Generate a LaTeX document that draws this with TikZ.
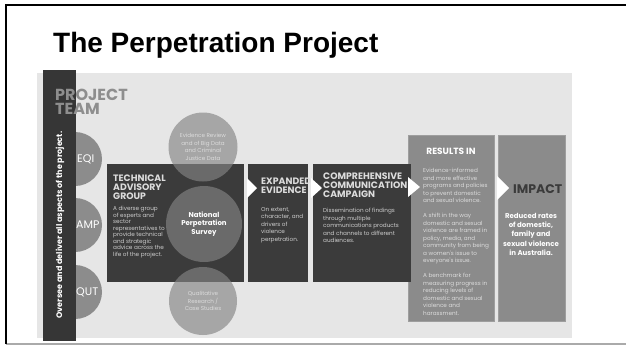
\documentclass[tikz,border=0pt]{standalone}
\usepackage{fontspec}
\usepackage{tikz}
\usetikzlibrary{positioning,calc}
\newfontfamily\poppins{Poppins}
\newfontfamily\headfont{Liberation Sans}
\definecolor{panel}{HTML}{E6E6E6}
\definecolor{bardark}{HTML}{363636}
\definecolor{boxdark}{HTML}{3B3B3B}
\definecolor{teamgrey}{HTML}{8C8C8C}
\definecolor{studygrey}{HTML}{848484}
\definecolor{resultgrey}{HTML}{8B8B8B}
\definecolor{resultedge}{HTML}{9E9E9E}
\definecolor{headlight}{HTML}{DCDCDC}
\definecolor{bodylight}{HTML}{CDCDCD}
\definecolor{teamtext}{HTML}{8E8E8E}
\definecolor{frameline}{HTML}{AAAAAA}
\tikzset{
  stage/.style={inner sep=0pt,anchor=north west,minimum height=118},
  outcome/.style={fill=resultgrey,draw=resultedge,line width=0.8pt,inner sep=0pt,anchor=north west,minimum height=186},
  notch/.style={fill=white},
}

\begin{document}
\begin{tikzpicture}[x=1pt,y=-1pt,
  boxhead/.style={inner sep=0pt,anchor=north west,align=left,text=headlight,font=\poppins\bfseries\fontsize{9.3}{9}\selectfont},
  boxbody/.style={inner sep=0pt,anchor=north west,align=left,text=bodylight,font=\poppins\fontsize{5.7}{#1}\selectfont},
  boxbody/.default=7.5,
  teamdot/.style={circle,fill=teamgrey,minimum size=54,inner sep=0pt},
  teamtag/.style={inner sep=0pt,text=white,font=\poppins\fontsize{11}{11}\selectfont},
  studydot/.style={circle,fill=studygrey,fill opacity=0.65,text opacity=1,inner sep=0pt,minimum size=#1,
    align=center,text=headlight,font=\poppins\fontsize{5.6}{7.7}\selectfont},
]
\useasboundingbox (0,0) rectangle (626,354);
\fill[white] (0,0) rectangle (626,354);
% frame of the slide
\draw[frameline,line width=1.5pt] (6,344) -- (626,344);
\draw[black,line width=2.5pt] (6,344) |- (626,5);

\node[inner sep=0pt,anchor=base west,font=\headfont\bfseries\fontsize{28}{30}\selectfont] (title) at (53,52) {The Perpetration Project};

\fill[panel] (37,73) rectangle (572,338);

% project team
\node[teamdot] (eqi) at (75,159) {};
\node[teamdot] (amp) at (75,225) {};
\node[teamdot] (qut) at (75,292) {};
\node[fill=bardark,inner sep=0pt,anchor=north west,minimum width=33,minimum height=271] (bar) at (43,70) {};
\node[teamtag,right=2pt of eqi.center] {EQI};
\node[teamtag,right=1pt of amp.center] {AMP};
\node[teamtag,right=1pt of qut.center] {QUT};
\node[inner sep=0pt,anchor=north west,align=left,text=teamtext,font=\poppins\bfseries\fontsize{16}{13.5}\selectfont] (team) at (55,89) {PROJECT\\TEAM};
\node[rotate=90,inner sep=0pt,text=white,font=\poppins\bfseries\fontsize{8}{8}\selectfont] (oversee) at (60,225) {Oversee and deliver all aspects of the project.};

% outcomes
\node[outcome,minimum width=86] (results) at (408,135) {};
\node[outcome,minimum width=67] (impact) at (498,135) {};

% stages
\node[stage,fill=boxdark,minimum width=137] (tag) at (107,164) {};
\node[stage,fill=boxdark,minimum width=60] (ee) at (248,164) {};
\node[stage,fill=boxdark,minimum width=98] (ccc) at (313,164) {};

\node[studydot=69] (review) at (203,147) {Evidence Review\\and of Big Data\\and Criminal\\Justice Data};
\node[studydot=76,text=white,font=\poppins\bfseries\fontsize{7}{8.3}\selectfont] (survey) at (204,224) {National\\Perpetration\\Survey};
\node[studydot=68] (qual) at (203,301) {Qualitative\\Research /\\Case Studies};

\fill[notch] ($(ee.north west)+(-1,14)$) -- ++(10,10) -- ++(-10,10) -- cycle;
\fill[notch] ($(ccc.north west)+(-2,14)$) -- ++(11,10) -- ++(-11,10) -- cycle;
\fill[notch] ($(results.north west)+(0,42)$) -- ++(12,10) -- ++(-12,10) -- cycle;
\fill[notch] ($(impact.north west)+(-1,41)$) -- ++(12,12) -- ++(-12,12) -- cycle;

\node[boxhead] (taghead) at (113,175) {TECHNICAL\\ADVISORY\\GROUP};
\node[boxbody=6.5] (tagbody) at (113,206) {A diverse group\\of experts and\\sector\\representatives to\\provide technical\\and strategic\\advice across the\\life of the project.};
\node[boxhead] (eehead) at (261,178) {EXPANDED\\EVIDENCE};
\node[boxbody] (eebody) at (261,207) {On extent,\\character, and\\drivers of\\violence\\perpetration.};
\node[boxhead] (ccchead) at (323,173) {COMPREHENSIVE\\COMMUNICATION\\CAMPAIGN};
\node[boxbody] (cccbody) at (323,208) {Dissemination of findings\\through multiple\\communications products\\and channels to different\\audiences.};

\node[inner sep=0pt,anchor=north,text=white,font=\poppins\bfseries\fontsize{9}{9}\selectfont] (reshead) at (451,148) {RESULTS IN};
\node[boxbody,text=headlight] (resbody) at (423,168) {Evidence-informed\\and more effective\\programs and policies\\to prevent domestic\\and sexual violence.\\[7.5pt]A shift in the way\\domestic and sexual\\violence are framed in\\policy, media, and\\community from being\\a women's issue to\\everyone's issue.\\[7.5pt]A benchmark for\\measuring progress in\\reducing levels of\\domestic and sexual\\violence and\\harassment.};

\node[inner sep=0pt,anchor=north west,text=boxdark,font=\poppins\bfseries\fontsize{12.5}{12.5}\selectfont] (imphead) at (513,184) {IMPACT};
\node[inner sep=0pt,anchor=north,align=center,text=white,font=\poppins\bfseries\fontsize{7}{9.3}\selectfont] (impbody) at (531,213) {Reduced rates\\of domestic,\\family and\\sexual violence\\in Australia.};
\end{tikzpicture}
\end{document}
